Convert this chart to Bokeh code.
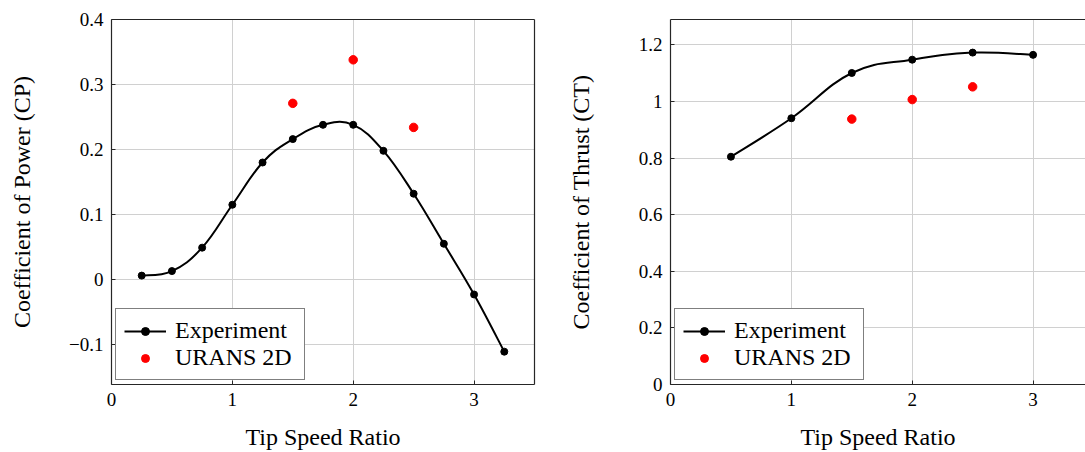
import numpy as np
from bokeh.plotting import figure
from bokeh.models import Range1d, FixedTicker, LinearAxis, Legend, LegendItem, ColumnDataSource
from bokeh.layouts import row
from bokeh.embed import file_html
from bokeh.resources import INLINE

# ---------------- data ----------------
tsr_cp = [0.25, 0.5, 0.75, 1.0, 1.25, 1.5, 1.75, 2.0, 2.25, 2.5, 2.75, 3.0, 3.25]
cp_exp = [0.006, 0.013, 0.049, 0.115, 0.180, 0.216, 0.238, 0.238, 0.198, 0.132, 0.055, -0.023, -0.111]
tsr_urans = [1.5, 2.0, 2.5]
cp_urans = [0.271, 0.338, 0.234]

tsr_ct = [0.5, 1.0, 1.5, 2.0, 2.5, 3.0]
ct_exp = [0.805, 0.941, 1.101, 1.148, 1.173, 1.165]
ct_urans = [0.938, 1.007, 1.052]

x_ticks = [0, 1, 2, 3]
cp_ticks = [-0.1, 0, 0.1, 0.2, 0.3, 0.4]
cp_tick_labels = ["\u22120.1", "0", "0.1", "0.2", "0.3", "0.4"]
ct_ticks = [0, 0.2, 0.4, 0.6, 0.8, 1.0, 1.2]
ct_tick_labels = ["0", "0.2", "0.4", "0.6", "0.8", "1", "1.2"]

x_label = "Tip Speed Ratio"
cp_label = "Coefficient of Power (CP)"
ct_label = "Coefficient of Thrust (CT)"
series_names = ["Experiment", "URANS 2D"]

# ---------------- style ----------------
SERIF = "Liberation Serif"
AX = "#262626"
GRID = "#d0d0d0"
FRAME_W = 423          # px for 3.5 units
FRAME_H = 365
PX_PER_X = FRAME_W / 3.5
HEIGHT = 452
TOP = 19
BOTTOM = HEIGHT - TOP - FRAME_H


def smooth_bezier(xs, ys, k=0.2):
    x = np.asarray(xs, float)
    y = np.asarray(ys, float)
    n = len(x)
    xp = np.concatenate([[x[0]], x, [x[-1]]])
    yp = np.concatenate([[y[0]], y, [y[-1]]])
    cx0 = x[:-1] + k * (xp[2:n + 1] - xp[0:n - 1])
    cy0 = y[:-1] + k * (yp[2:n + 1] - yp[0:n - 1])
    cx1 = x[1:] - k * (xp[3:n + 2] - xp[1:n])
    cy1 = y[1:] - k * (yp[3:n + 2] - yp[1:n])
    return dict(x0=x[:-1], y0=y[:-1], x1=x[1:], y1=y[1:],
                cx0=cx0, cy0=cy0, cx1=cx1, cy1=cy1)


def make_fig(width, min_left, min_right, x_end, y_start, y_end, yticks, ylabels,
             ylabel, ylabel_standoff, right_axis):
    p = figure(width=width, height=HEIGHT,
               x_range=Range1d(0, x_end), y_range=Range1d(y_start, y_end),
               output_backend="svg", toolbar_location=None,
               min_border_left=min_left, min_border_right=min_right,
               min_border_top=TOP, min_border_bottom=BOTTOM)
    p.outline_line_color = None
    p.background_fill_color = "white"
    p.border_fill_color = "white"
    top = LinearAxis(ticker=FixedTicker(ticks=[]))
    p.add_layout(top, "above")
    if right_axis:
        r = LinearAxis(ticker=FixedTicker(ticks=[]))
        p.add_layout(r, "right")
    p.below[0].ticker = FixedTicker(ticks=x_ticks)
    p.left[0].ticker = FixedTicker(ticks=yticks)
    for ax in p.axis:
        ax.axis_line_color = AX
        ax.axis_line_width = 1.2
        ax.major_tick_line_color = AX
        ax.major_tick_line_width = 1
        ax.major_tick_in = 4
        ax.major_tick_out = 0
        ax.minor_tick_line_color = None
        ax.major_label_text_font = SERIF
        ax.major_label_text_font_size = "19px"
        ax.major_label_text_color = "black"
        ax.axis_label_text_font = SERIF
        ax.axis_label_text_font_size = "24px"
        ax.axis_label_text_font_style = "normal"
        ax.axis_label_text_color = "black"
    xa = p.below[0]
    xa.major_label_standoff = 8
    xa.axis_label = x_label
    xa.axis_label_standoff = 15
    ya = p.left[0]
    ya.major_label_standoff = 8
    ya.major_label_overrides = dict(zip(yticks, ylabels))
    ya.axis_label = ylabel
    ya.axis_label_standoff = ylabel_standoff
    p.xgrid.ticker = FixedTicker(ticks=x_ticks)
    p.ygrid.ticker = FixedTicker(ticks=yticks)
    p.grid.grid_line_color = GRID
    p.grid.grid_line_width = 1
    return p


def add_series(p, xs, ys, xu, yu):
    src = ColumnDataSource(smooth_bezier(xs, ys))
    r_curve = p.bezier(x0="x0", y0="y0", x1="x1", y1="y1", cx0="cx0", cy0="cy0",
                       cx1="cx1", cy1="cy1", source=src, line_color="black", line_width=2)
    r_pts = p.scatter(xs, ys, size=7, color="black")
    r_ur = p.scatter(xu, yu, size=8.5, color="#ff0000")
    legend = Legend(items=[LegendItem(label=series_names[0], renderers=[r_curve, r_pts]),
                           LegendItem(label=series_names[1], renderers=[r_ur])],
                    location="bottom_left", margin=4, padding=8, spacing=0,
                    glyph_width=42, glyph_height=20, label_height=27, label_standoff=9,
                    label_width=121,
                    label_text_font=SERIF, label_text_font_size="24px", label_text_color="black",
                    border_line_color="black", border_line_width=1,
                    background_fill_color="white", background_fill_alpha=1)
    p.add_layout(legend)


# ---------------- left: power ----------------
p1 = make_fig(560, 111, 26, 3.5, -0.1615, 0.4, cp_ticks, cp_tick_labels,
              cp_label, 31, True)
add_series(p1, tsr_cp, cp_exp, tsr_urans, cp_urans)

# ---------------- right: thrust ----------------
p2_w = 1085 - 560
p2_frame_w = p2_w - 110
p2 = make_fig(p2_w, 110, 0, p2_frame_w / PX_PER_X, 0.0, 1.29, ct_ticks, ct_tick_labels,
              ct_label, 42, False)
add_series(p2, tsr_ct, ct_exp, tsr_urans, ct_urans)

layout = row(p1, p2, spacing=0)
open("out.html", "w").write(file_html(layout, INLINE))
